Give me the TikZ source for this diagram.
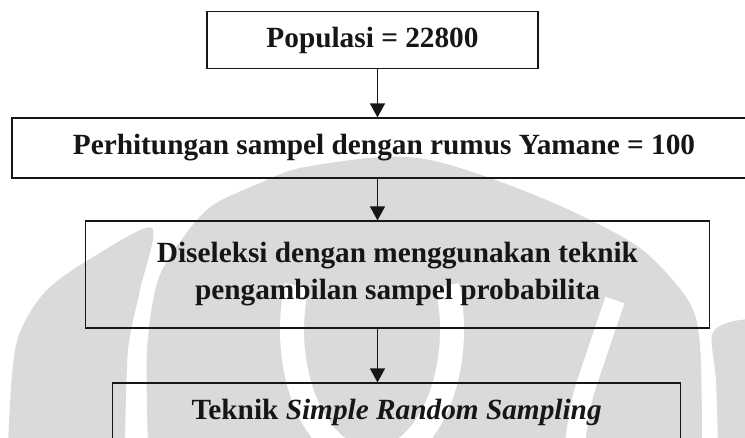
\documentclass[tikz,border=0pt]{standalone}
\usepackage{fontspec}
\setmainfont{Liberation Serif}
\usetikzlibrary{arrows.meta}
\definecolor{wm}{RGB}{218,218,218}
\definecolor{ink}{RGB}{22,22,22}
\begin{document}
\begin{tikzpicture}[x=1pt,y=-1pt,
  box/.style={draw=ink,line width=1.2pt,inner sep=0pt,text=ink,align=center,
    font=\fontsize{29.3}{37}\selectfont\bfseries},
  arr/.style={draw=ink,line width=1.2pt,-{Triangle[width=15pt,length=14pt]}},
  wmband/.style={draw=white,line width=24pt}]
\useasboundingbox (0,0) rectangle (745,437);
\fill[white] (0,0) rectangle (745,437);
% watermark
\begin{scope}
\clip (0,0) rectangle (745,437);
\fill[wm] plot[smooth] coordinates {(8,445) (16,345) (45,292) (95,256) (152,228) (140,290) (128,350) (125,445)} -- cycle;
\fill[wm] plot[smooth] coordinates {(148,445) (147,350) (158,280) (185,235) (213,205) (260,183) (300,168) (380,157) (430,160) (490,178) (565,208) (640,248) (688,300) (700,345) (702,445)} -- cycle;
\fill[wm] plot[smooth] coordinates {(718,445) (716,380) (712,335) (730,322) (760,318)} -- (760,445) -- cycle;
\draw[wmband] (372,330) ++(-20:80 and 130) arc[start angle=-20,end angle=200,x radius=80,y radius=130];
\draw[white,line width=20pt] plot[smooth] coordinates {(615,300) (598,350) (582,400) (574,450)};
\end{scope}
% flowchart
\coordinate (ax) at (377.5,0);
\node[box,minimum width=331pt,minimum height=57pt] (b1) at (372.5,40.3) {Populasi = 22800};
\node[box,minimum width=744pt,minimum height=60pt] (b2) at (384,148) {Perhitungan sampel dengan rumus Yamane = 100};
\node[box,minimum width=624pt,minimum height=107pt] (b3) at (397.5,274.5) {Diseleksi dengan menggunakan teknik\\pengambilan sampel probabilita};
\node[box,minimum width=568pt,minimum height=58pt] (b4) at (396.6,412) {Teknik \textit{Simple Random Sampling}};
\draw[arr] (b1.south -| ax) -- (b2.north -| ax);
\draw[arr] (b2.south -| ax) -- (b3.north -| ax);
\draw[arr] (b3.south -| ax) -- (b4.north -| ax);
\end{tikzpicture}
\end{document}
